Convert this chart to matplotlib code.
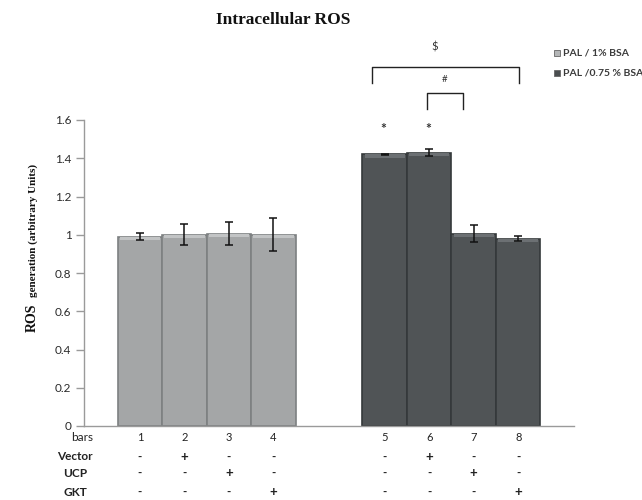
import matplotlib
matplotlib.use("Agg")
import matplotlib.pyplot as plt
from matplotlib.patches import Rectangle
from matplotlib.transforms import blended_transform_factory

# Data
bar_labels = ["1", "2", "3", "4", "5", "6", "7", "8"]
ros_values = [0.99, 1.00, 1.005, 1.00, 1.42, 1.43, 1.005, 0.98]
ros_errors = [0.02, 0.055, 0.06, 0.085, 0.003, 0.02, 0.045, 0.014]
groups = ["PAL / 1% BSA", "PAL /0.75 % BSA"]
row_names = ["Vector", "UCP", "GKT"]
vector_row = ["-", "+", "-", "-", "-", "+", "-", "-"]
ucp_row = ["-", "-", "+", "-", "-", "-", "+", "-"]
gkt_row = ["-", "-", "-", "+", "-", "-", "-", "+"]
y_ticks = [0, 0.2, 0.4, 0.6, 0.8, 1.0, 1.2, 1.4, 1.6]
y_tick_labels = ["0", "0.2", "0.4", "0.6", "0.8", "1", "1.2", "1.4", "1.6"]

# Layout / style
positions = [0, 1, 2, 3, 5.5, 6.5, 7.5, 8.5]
face = ["#a4a6a7"] * 4 + ["#505456"] * 4
edge = ["#7d8081"] * 4 + ["#35393b"] * 4
bevel = ["#c2c4c5"] * 4 + ["#6c7073"] * 4
sans = ["Lato", "DejaVu Sans"]
serif = ["Liberation Serif", "DejaVu Serif"]

fig = plt.figure(figsize=(6.42, 5.0), dpi=100)
ax = fig.add_axes([84 / 642, 1 - 426 / 500, 490 / 642, 306 / 500])

ax.bar(positions, ros_values, width=1.0, color=face, edgecolor=edge,
       linewidth=1.2, zorder=2)
# top bevel highlight
bev_h = 0.018
ax.bar(positions, [bev_h] * len(positions),
       bottom=[v - bev_h for v in ros_values], width=0.9,
       color=bevel, linewidth=0, zorder=3)
ax.errorbar(positions, ros_values, yerr=ros_errors, fmt="none",
            ecolor="#111111", elinewidth=1.1, capsize=3.2, capthick=1.1,
            zorder=4)

ax.set_xlim(-1.258, 9.753)
ax.set_ylim(0, 1.6)
ax.set_yticks(y_ticks)
ax.set_yticklabels(y_tick_labels, fontfamily=sans, fontsize=8.5,
                   color="#2a2a2a")
ax.set_xticks([])
for s in ["top", "right"]:
    ax.spines[s].set_visible(False)
for s in ["left", "bottom"]:
    ax.spines[s].set_color("#9a9a9a")
    ax.spines[s].set_linewidth(1.0)
ax.tick_params(axis="y", direction="out", length=6, width=1.0,
               color="#9a9a9a", pad=3)

# Table of treatments under the bars
tr = blended_transform_factory(ax.transData, ax.transAxes)
row_y = [-0.101, -0.154, -0.216]
rows = [vector_row, ucp_row, gkt_row]
ax.text(-1.3, -0.039, "bars", transform=tr, ha="center", va="center",
        fontfamily=sans, fontsize=8.5, color="#222222")
for x, lab in zip(positions, bar_labels):
    ax.text(x, -0.039, lab, transform=tr, ha="center", va="center",
            fontfamily=sans, fontsize=8, color="#222222")
for name, yy, row in zip(row_names, row_y, rows):
    ax.text(-1.46, yy, name, transform=tr, ha="center", va="center",
            fontfamily=sans, fontsize=8.5, fontweight="bold", color="#222222")
    for x, sym in zip(positions, row):
        ax.text(x, yy, sym, transform=tr, ha="center", va="center",
                fontfamily=sans, fontsize=9.5 if sym == "+" else 8.5,
                fontweight="bold", color="#222222")

# Significance markers
lk = dict(color="#222222", linewidth=1.0, clip_on=False, zorder=5)
ax.plot([5.21, 5.21, 8.52, 8.52], [1.795, 1.876, 1.876, 1.795], **lk)
ax.plot([6.45, 6.45, 7.26, 7.26], [1.657, 1.743, 1.743, 1.657], **lk)
ax.text(6.63, 1.98, "$", ha="center", va="center", fontfamily=sans,
        fontsize=8, color="#333333", clip_on=False)
ax.text(6.85, 1.814, "#", ha="center", va="center", fontfamily=sans,
        fontsize=7, color="#333333", clip_on=False)
for x in positions[4:6]:
    ax.text(x - 0.03, 1.555, "*", ha="center", va="center",
            fontfamily=sans, fontsize=10, fontweight="bold",
            color="#333333", clip_on=False)

# Title and y label
fig.text(283.5 / 642, 1 - 20 / 500, "Intracellular ROS", ha="center",
         va="center", fontfamily=serif, fontweight="bold", fontsize=12.5,
         color="#111111")
fig.text(32 / 642, 1 - 332 / 500, "ROS", rotation=90, ha="center",
         va="bottom", fontfamily=serif, fontweight="bold", fontsize=10,
         color="#111111")
fig.text(33 / 642, 1 - 297 / 500, "generation (arbitrary Units)",
         rotation=90, ha="center", va="bottom", fontfamily=serif,
         fontweight="bold", fontsize=8, color="#111111")

# Legend
leg_y = [53, 73]
leg_face = ["#b4b6b7", "#4a4e50"]
for yy, lab, fc in zip(leg_y, groups, leg_face):
    fig.patches.append(Rectangle((554 / 642, 1 - (yy + 3) / 500), 6 / 642,
                                 6 / 500, transform=fig.transFigure,
                                 facecolor=fc, edgecolor="#666666",
                                 linewidth=0.6))
    fig.text(563 / 642, 1 - yy / 500, lab, ha="left", va="center",
             fontfamily=sans, fontsize=7.5, fontweight="bold",
             color="#3a3a3a")

fig.savefig("out.png", dpi=100)
